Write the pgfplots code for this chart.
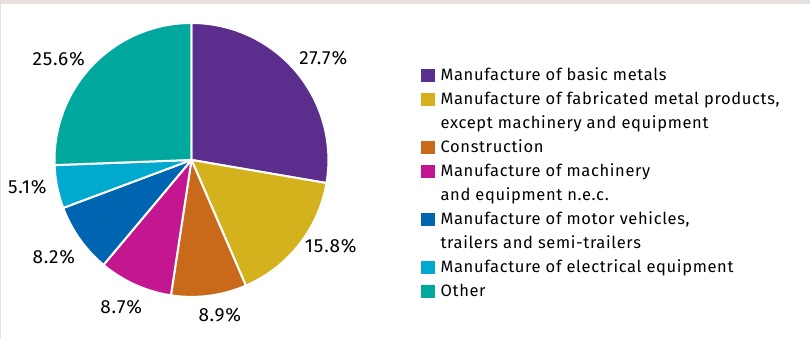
\documentclass[border=0pt]{standalone}
\usepackage{pgfplots}
\pgfplotsset{compat=1.18}
\usepackage{fontspec}
\setmainfont{Fira Sans}[LetterSpace=4]
\definecolor{cA}{RGB}{91,46,142}
\definecolor{cB}{RGB}{212,178,30}
\definecolor{cC}{RGB}{201,106,27}
\definecolor{cD}{RGB}{196,23,143}
\definecolor{cE}{RGB}{0,101,177}
\definecolor{cF}{RGB}{0,169,206}
\definecolor{cG}{RGB}{0,168,157}
\definecolor{bandc}{RGB}{232,226,223}
% shares in percent
\def\sA{27.7}\def\sB{15.8}\def\sC{8.9}\def\sD{8.7}\def\sE{8.2}\def\sF{5.1}\def\sG{25.6}
\pgfmathsetmacro\tA{90}
\pgfmathsetmacro\tB{\tA-3.6*\sA}
\pgfmathsetmacro\tC{\tB-3.6*\sB}
\pgfmathsetmacro\tD{\tC-3.6*\sC}
\pgfmathsetmacro\tE{\tD-3.6*\sD}
\pgfmathsetmacro\tF{\tE-3.6*\sE}
\pgfmathsetmacro\tG{\tF-3.6*\sF}
\pgfmathsetmacro\tH{\tG-3.6*\sG}
\begin{document}
\begin{tikzpicture}[font=\fontsize{16.5bp}{19bp}\selectfont]
\begin{axis}[
  hide axis, x=136bp, y=136bp,
  xmin=-1.408, xmax=4.548, ymin=-1.309, ymax=1.176,
  clip=false,
  legend cell align=left,
  legend image code/.code={\fill[#1,draw=none] (0bp,-5bp) rectangle (13.4bp,8.4bp);},
  legend style={draw=none, fill=none, at={(axis cs:1.6875,0.674)}, anchor=north west,
    inner sep=0pt, row sep=7bp, column sep=6bp,
    nodes={inner sep=0pt, text height=12.5bp, text depth=4.5bp}},
  every axis plot/.append style={draw=white, line width=2bp, line join=round, samples=90},
]
\path (rel axis cs:0,0) rectangle (rel axis cs:1,1);
\fill[bandc] (rel axis cs:0,1) rectangle ([yshift=-4bp]rel axis cs:1,1);
\fill[bandc] (rel axis cs:0,0) rectangle ([xshift=1bp]rel axis cs:0,1);
\addplot[fill=cA, domain=\tB:\tA] ({1.007*cos(x)},{1.007*sin(x)}) -- (axis cs:0,0) -- cycle;
\addlegendentry{Manufacture of basic metals}
\addplot[fill=cB, domain=\tC:\tB] ({1.007*cos(x)},{1.007*sin(x)}) -- (axis cs:0,0) -- cycle;
\addlegendentry{Manufacture of fabricated metal products,}
\addlegendimage{empty legend}
\addlegendentry{except machinery and equipment}
\addplot[fill=cC, domain=\tD:\tC] ({1.007*cos(x)},{1.007*sin(x)}) -- (axis cs:0,0) -- cycle;
\addlegendentry{Construction}
\addplot[fill=cD, domain=\tE:\tD] ({1.007*cos(x)},{1.007*sin(x)}) -- (axis cs:0,0) -- cycle;
\addlegendentry{Manufacture of machinery}
\addlegendimage{empty legend}
\addlegendentry{and equipment n.e.c.}
\addplot[fill=cE, domain=\tF:\tE] ({1.007*cos(x)},{1.007*sin(x)}) -- (axis cs:0,0) -- cycle;
\addlegendentry{Manufacture of motor vehicles,}
\addlegendimage{empty legend}
\addlegendentry{trailers and semi-trailers}
\addplot[fill=cF, domain=\tG:\tF] ({1.007*cos(x)},{1.007*sin(x)}) -- (axis cs:0,0) -- cycle;
\addlegendentry{Manufacture of electrical equipment}
\addplot[fill=cG, domain=\tH:\tG] ({1.007*cos(x)},{1.007*sin(x)}) -- (axis cs:0,0) -- cycle;
\addlegendentry{Other}
\begin{scope}[font=\fontsize{19bp}{22bp}\selectfont]
\node at (axis cs:0.969,0.746) {\sA\%};
\node at (axis cs:1.024,-0.632) {\sB\%};
\node at (axis cs:0.208,-1.140) {\sC\%};
\node at (axis cs:-0.516,-1.079) {\sD\%};
\node at (axis cs:-1.012,-0.717) {\sE\%};
\node at (axis cs:-1.207,-0.202) {\sF\%};
\node at (axis cs:-0.976,0.745) {\sG\%};
\end{scope}
\end{axis}
\end{tikzpicture}
\end{document}
